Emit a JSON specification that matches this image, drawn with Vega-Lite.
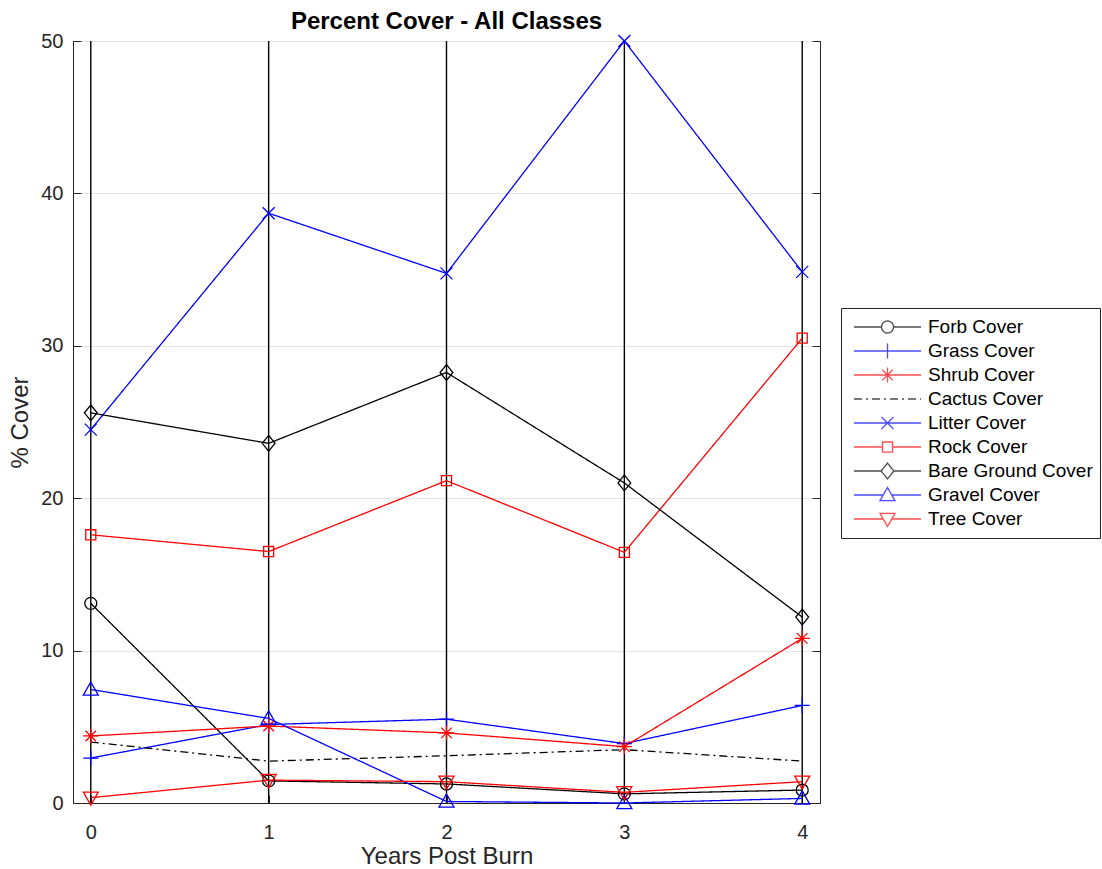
{
  "$schema": "https://vega.github.io/schema/vega-lite/v6.json",
  "width": 747,
  "height": 762,
  "autosize": {"type": "none"},
  "padding": {"left": 73, "top": 41, "right": 282, "bottom": 66},
  "background": "white",
  "config": {
    "font": "Liberation Sans",
    "view": {"stroke": "#262626", "strokeWidth": 1}
  },
  "title": {
    "text": "Percent Cover - All Classes",
    "fontSize": 24,
    "fontWeight": "bold",
    "color": "#000000",
    "font": "Liberation Sans",
    "offset": -3
  },
  "datasets": {
    "cover": [
      {"year": 0, "series": "Forb Cover", "value": 13.1},
      {"year": 1, "series": "Forb Cover", "value": 1.45},
      {"year": 2, "series": "Forb Cover", "value": 1.25},
      {"year": 3, "series": "Forb Cover", "value": 0.6},
      {"year": 4, "series": "Forb Cover", "value": 0.85},
      {"year": 0, "series": "Grass Cover", "value": 2.95},
      {"year": 1, "series": "Grass Cover", "value": 5.15},
      {"year": 2, "series": "Grass Cover", "value": 5.5},
      {"year": 3, "series": "Grass Cover", "value": 3.9},
      {"year": 4, "series": "Grass Cover", "value": 6.4},
      {"year": 0, "series": "Shrub Cover", "value": 4.4},
      {"year": 1, "series": "Shrub Cover", "value": 5.05},
      {"year": 2, "series": "Shrub Cover", "value": 4.6},
      {"year": 3, "series": "Shrub Cover", "value": 3.7},
      {"year": 4, "series": "Shrub Cover", "value": 10.8},
      {"year": 0, "series": "Cactus Cover", "value": 4.0},
      {"year": 1, "series": "Cactus Cover", "value": 2.75},
      {"year": 2, "series": "Cactus Cover", "value": 3.1},
      {"year": 3, "series": "Cactus Cover", "value": 3.5},
      {"year": 4, "series": "Cactus Cover", "value": 2.75},
      {"year": 0, "series": "Litter Cover", "value": 24.5},
      {"year": 1, "series": "Litter Cover", "value": 38.7},
      {"year": 2, "series": "Litter Cover", "value": 34.75},
      {"year": 3, "series": "Litter Cover", "value": 50.0},
      {"year": 4, "series": "Litter Cover", "value": 34.85},
      {"year": 0, "series": "Rock Cover", "value": 17.6},
      {"year": 1, "series": "Rock Cover", "value": 16.5},
      {"year": 2, "series": "Rock Cover", "value": 21.15},
      {"year": 3, "series": "Rock Cover", "value": 16.45},
      {"year": 4, "series": "Rock Cover", "value": 30.5},
      {"year": 0, "series": "Bare Ground Cover", "value": 25.6},
      {"year": 1, "series": "Bare Ground Cover", "value": 23.6},
      {"year": 2, "series": "Bare Ground Cover", "value": 28.25},
      {"year": 3, "series": "Bare Ground Cover", "value": 21.0},
      {"year": 4, "series": "Bare Ground Cover", "value": 12.2},
      {"year": 0, "series": "Gravel Cover", "value": 7.45},
      {"year": 1, "series": "Gravel Cover", "value": 5.55},
      {"year": 2, "series": "Gravel Cover", "value": 0.1},
      {"year": 3, "series": "Gravel Cover", "value": 0.0},
      {"year": 4, "series": "Gravel Cover", "value": 0.3},
      {"year": 0, "series": "Tree Cover", "value": 0.35},
      {"year": 1, "series": "Tree Cover", "value": 1.5},
      {"year": 2, "series": "Tree Cover", "value": 1.4},
      {"year": 3, "series": "Tree Cover", "value": 0.7},
      {"year": 4, "series": "Tree Cover", "value": 1.4}
    ],
    "years": [
      {"year": 0}, {"year": 1}, {"year": 2}, {"year": 3}, {"year": 4}
    ]
  },
  "resolve": {
    "scale": {"color": "independent", "shape": "independent", "strokeDash": "independent"},
    "axis": {"y": "independent"}
  },
  "layer": [
    {
      "data": {"name": "years"},
      "mark": {"type": "rule", "color": "#000000", "strokeWidth": 1.4},
      "encoding": {
        "x": {"field": "year", "type": "quantitative", "scale": {"domain": [-0.1, 4.1], "nice": false, "zero": false}},
        "y": {
          "datum": 0, "type": "quantitative",
          "scale": {"domain": [0, 50], "nice": false, "zero": false},
          "axis": {
            "orient": "right", "values": [0, 10, 20, 30, 40, 50], "labels": false, "title": null,
            "grid": false, "tickSize": -8, "tickColor": "#262626", "domainColor": "#262626"
          }
        },
        "y2": {"datum": 50}
      }
    },
    {
      "data": {"name": "cover"},
      "mark": {"type": "line", "strokeWidth": 1.3},
      "encoding": {
        "x": {
          "field": "year", "type": "quantitative",
          "scale": {"domain": [-0.1, 4.1], "nice": false, "zero": false},
          "axis": {
            "values": [0, 1, 2, 3, 4], "format": "d", "title": "Years Post Burn", "grid": false,
            "tickSize": -8, "tickColor": "#262626", "domainColor": "#262626",
            "labelFontSize": 20, "labelColor": "#262626", "labelPadding": 27,
            "titleFontSize": 24, "titleFontWeight": "normal", "titleColor": "#262626", "titlePadding": 2
          }
        },
        "y": {
          "field": "value", "type": "quantitative",
          "scale": {"domain": [0, 50], "nice": false, "zero": false},
          "axis": {
            "orient": "left", "values": [0, 10, 20, 30, 40, 50], "title": "% Cover",
            "grid": true, "gridColor": "#e4e4e4", "gridWidth": 1.2,
            "tickSize": -8, "tickColor": "#262626", "domainColor": "#262626",
            "labelFontSize": 20, "labelColor": "#262626", "labelPadding": 18,
            "titleFontSize": 24, "titleFontWeight": "normal", "titleColor": "#262626", "titlePadding": 8
          }
        },
        "detail": {"field": "series"},
        "color": {
          "field": "series", "type": "nominal", "legend": null,
          "scale": {
            "domain": ["Forb Cover", "Grass Cover", "Shrub Cover", "Cactus Cover", "Litter Cover", "Rock Cover", "Bare Ground Cover", "Gravel Cover", "Tree Cover"],
            "range": ["#000000", "#0000ff", "#ff0000", "#000000", "#0000ff", "#ff0000", "#000000", "#0000ff", "#ff0000"]
          }
        },
        "strokeDash": {
          "field": "series", "type": "nominal", "legend": null,
          "scale": {
            "domain": ["Forb Cover", "Grass Cover", "Shrub Cover", "Cactus Cover", "Litter Cover", "Rock Cover", "Bare Ground Cover", "Gravel Cover", "Tree Cover"],
            "range": [[1, 0], [1, 0], [1, 0], [8, 4, 2, 4], [1, 0], [1, 0], [1, 0], [1, 0], [1, 0]]
          }
        }
      }
    },
    {
      "data": {"name": "cover"},
      "transform": [{"filter": "datum.series !== 'Cactus Cover'"}],
      "mark": {"type": "point", "filled": false, "size": 225, "strokeWidth": 1.3, "opacity": 1},
      "encoding": {
        "x": {"field": "year", "type": "quantitative"},
        "y": {"field": "value", "type": "quantitative", "axis": null},
        "color": {
          "field": "series", "type": "nominal", "legend": null,
          "scale": {
            "domain": ["Forb Cover", "Grass Cover", "Shrub Cover", "Litter Cover", "Rock Cover", "Bare Ground Cover", "Gravel Cover", "Tree Cover"],
            "range": ["#000000", "#0000ff", "#ff0000", "#0000ff", "#ff0000", "#000000", "#0000ff", "#ff0000"]
          }
        },
        "shape": {
          "field": "series", "type": "nominal", "legend": null,
          "scale": {
            "domain": ["Forb Cover", "Grass Cover", "Shrub Cover", "Litter Cover", "Rock Cover", "Bare Ground Cover", "Gravel Cover", "Tree Cover"],
            "range": [
              "M-0.8,0A0.8,0.8,0,1,0,0.8,0A0.8,0.8,0,1,0,-0.8,0Z",
              "M-1,0H1M0,-1V1",
              "M-1,0H1M0,-1V1M-0.7,-0.7L0.7,0.7M-0.7,0.7L0.7,-0.7",
              "M-0.8,-0.8L0.8,0.8M-0.8,0.8L0.8,-0.8",
              "M-0.67,-0.67H0.67V0.67H-0.67Z",
              "M0,-1.05L0.85,0L0,1.05L-0.85,0Z",
              "M0,-1L1,0.75H-1Z",
              "M0,1L1,-0.75H-1Z"
            ]
          }
        }
      }
    },
    {
      "data": {"name": "cover"},
      "transform": [{"filter": "datum.value < -1"}],
      "mark": {"type": "point", "filled": false, "strokeWidth": 1.3},
      "encoding": {
        "x": {"field": "year", "type": "quantitative"},
        "y": {"field": "value", "type": "quantitative", "axis": null},
        "color": {
          "field": "series", "type": "nominal",
          "scale": {
            "domain": ["Forb Cover", "Grass Cover", "Shrub Cover", "Cactus Cover", "Litter Cover", "Rock Cover", "Bare Ground Cover", "Gravel Cover", "Tree Cover"],
            "range": ["#000000", "#0000ff", "#ff0000", "#000000", "#0000ff", "#ff0000", "#000000", "#0000ff", "#ff0000"]
          },
          "legend": {
            "orient": "none", "legendX": 768, "legendY": 267, "title": null,
            "strokeColor": "#262626", "fillColor": "#ffffff", "padding": 7,
            "symbolSize": 4489, "symbolStrokeWidth": 1.3, "symbolOffset": 5,
            "clipHeight": 24, "rowPadding": 0,
            "labelFontSize": 19, "labelFont": "Liberation Sans", "labelColor": "#000000",
            "labelOffset": 6, "labelLimit": 400
          }
        },
        "shape": {
          "field": "series", "type": "nominal",
          "scale": {
            "domain": ["Forb Cover", "Grass Cover", "Shrub Cover", "Cactus Cover", "Litter Cover", "Rock Cover", "Bare Ground Cover", "Gravel Cover", "Tree Cover"],
            "range": [
              "M-1,0H-0.179M0.179,0H1M-0.179,0A0.179,0.179,0,1,0,0.179,0A0.179,0.179,0,1,0,-0.179,0Z",
              "M-1,0H1M0,-0.224V0.224",
              "M-1,0H1M0,-0.224V0.224M-0.157,-0.157L0.157,0.157M-0.157,0.157L0.157,-0.157",
              "M-1,0H1",
              "M-1,0H1M-0.179,-0.179L0.179,0.179M-0.179,0.179L0.179,-0.179",
              "M-1,0H-0.15M0.15,0H1M-0.15,-0.15H0.15V0.15H-0.15Z",
              "M-1,0H-0.19M0.19,0H1M0,-0.235L0.19,0L0,0.235L-0.19,0Z",
              "M-1,0H-0.128M0.128,0H1M0,-0.224L0.224,0.168H-0.224Z",
              "M-1,0H-0.128M0.128,0H1M0,0.224L0.224,-0.168H-0.224Z"
            ]
          }
        },
        "strokeDash": {
          "field": "series", "type": "nominal",
          "scale": {
            "domain": ["Forb Cover", "Grass Cover", "Shrub Cover", "Cactus Cover", "Litter Cover", "Rock Cover", "Bare Ground Cover", "Gravel Cover", "Tree Cover"],
            "range": [[1, 0], [1, 0], [1, 0], [8, 4, 2, 4], [1, 0], [1, 0], [1, 0], [1, 0], [1, 0]]
          }
        }
      }
    }
  ]
}
